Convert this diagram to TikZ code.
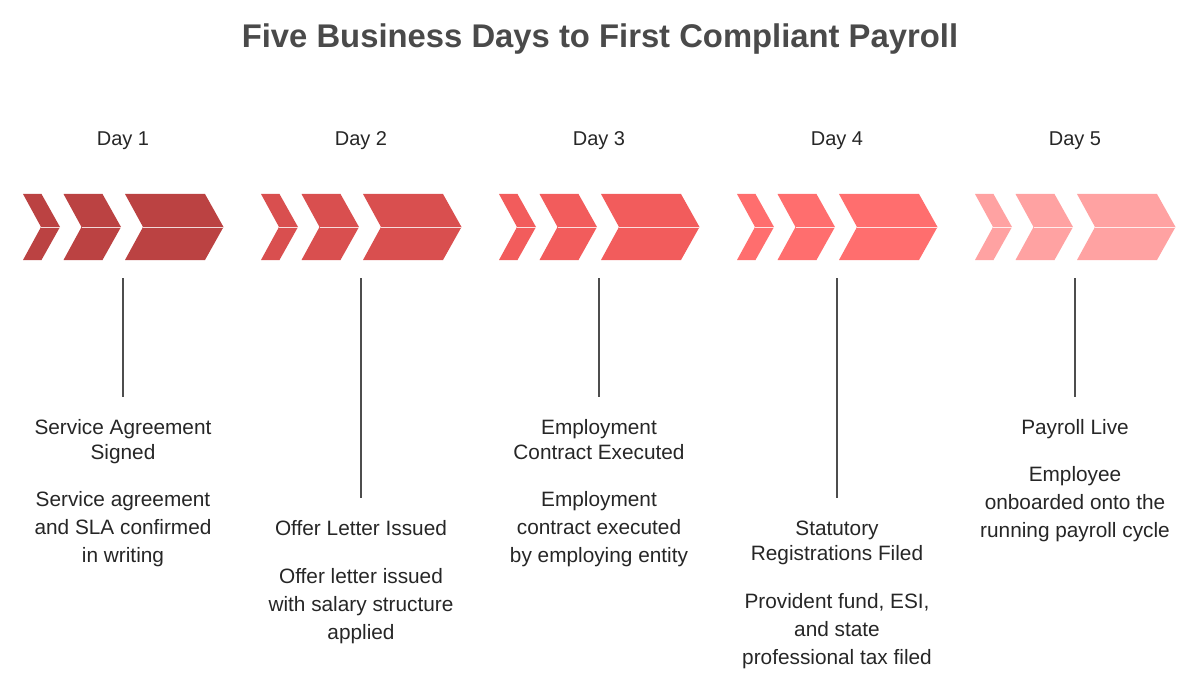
\documentclass[tikz,border=0pt]{standalone}
\usepackage{fontspec}
\setmainfont{Liberation Sans}
\usetikzlibrary{positioning}

\definecolor{dayone}{HTML}{BB4242}
\definecolor{daytwo}{HTML}{D94F4F}
\definecolor{daythree}{HTML}{F25C5C}
\definecolor{dayfour}{HTML}{FF6E6E}
\definecolor{dayfive}{HTML}{FFA2A2}
\definecolor{titlegray}{HTML}{4A4A4A}
\definecolor{textgray}{HTML}{262626}
\definecolor{stemgray}{HTML}{4D4D4D}

% one chevron: left x, top width, colour
\def\chevron(#1:#2:#3){%
  \fill[#3] (#1, 194) -- ({#1+#2}, 194) -- ({#1+#2+18.5}, 227) -- ({#1+#2}, 260)
    -- (#1, 260) -- ({#1+18}, 227) -- cycle;
  \draw[white!80!#3, line width=0.9] ({#1+18}, 227) -- ({#1+#2+18.5}, 227);}
% three chevrons of one day, from left x
\def\daychevrons(#1:#2){%
  \chevron(#1:18.5:#2)
  \chevron({#1+40.5}:39:#2)
  \chevron({#1+102}:80:#2)}

\tikzset{
  daylabel/.style={font=\fontsize{20}{24}\selectfont, text=textgray, inner sep=0},
  stem/.style={draw=stemgray, line width=1.3},
  headline/.style={anchor=north, align=center, inner sep=0, text=textgray,
    font=\fontsize{20.8}{25}\selectfont},
  descline/.style={anchor=north, align=center, inner sep=0, text=textgray,
    font=\fontsize{20.8}{28}\selectfont}
}

\begin{document}
\begin{tikzpicture}[x=1pt, y=-1pt]
  \useasboundingbox (0, 0) rectangle (1200, 690);

  %%%%% TITLE %%%%%
  \node[font=\fontsize{32.8}{38}\selectfont\bfseries, text=titlegray] (title) at (600, 39)
    {Five Business Days to First Compliant Payroll};

  %%%%% DAY LABELS %%%%%
  \node[daylabel] (day1) at (123, 141) {Day 1};
  \node[daylabel] (day2) at (361, 141) {Day 2};
  \node[daylabel] (day3) at (599, 141) {Day 3};
  \node[daylabel] (day4) at (837, 141) {Day 4};
  \node[daylabel] (day5) at (1075, 141) {Day 5};

  %%%%% CHEVRONS %%%%%
  \daychevrons(23:dayone)
  \daychevrons(261:daytwo)
  \daychevrons(499:daythree)
  \daychevrons(737:dayfour)
  \daychevrons(975:dayfive)

  %%%%% STEMS %%%%%
  \coordinate (c1) at (123, 278);
  \coordinate (c2) at (361, 278);
  \coordinate (c3) at (599, 278);
  \coordinate (c4) at (837, 278);
  \coordinate (c5) at (1075, 278);
  \coordinate (e1) at (123, 397);
  \coordinate (e2) at (361, 498);
  \coordinate (e3) at (599, 397);
  \coordinate (e4) at (837, 498);
  \coordinate (e5) at (1075, 397);
  \draw[stem] (c1) -- (e1);
  \draw[stem] (c2) -- (e2);
  \draw[stem] (c3) -- (e3);
  \draw[stem] (c4) -- (e4);
  \draw[stem] (c5) -- (e5);

  %%%%% TEXTS %%%%%
  \node[headline, below=19.5pt of e1] (h1) {\strut Service Agreement\\Signed\strut};
  \node[descline, below=20pt of h1] (d1) {\strut Service agreement\\and SLA confirmed\\in writing\strut};

  \node[headline, below=19.5pt of e2] (h2) {\strut Offer Letter Issued\strut};
  \node[descline, below=21pt of h2] (d2) {\strut Offer letter issued\\with salary structure\\applied\strut};

  \node[headline, below=19.5pt of e3] (h3) {\strut Employment\\Contract Executed\strut};
  \node[descline, below=20pt of h3] (d3) {\strut Employment\\contract executed\\by employing entity\strut};

  \node[headline, below=20pt of e4] (h4) {\strut Statutory\\Registrations Filed\strut};
  \node[descline, below=20.5pt of h4] (d4) {\strut Provident fund, ESI,\\and state\\professional tax filed\strut};

  \node[headline, below=19.5pt of e5] (h5) {\strut Payroll Live\strut};
  \node[descline, below=20pt of h5] (d5) {\strut Employee\\onboarded onto the\\running payroll cycle\strut};
\end{tikzpicture}
\end{document}
